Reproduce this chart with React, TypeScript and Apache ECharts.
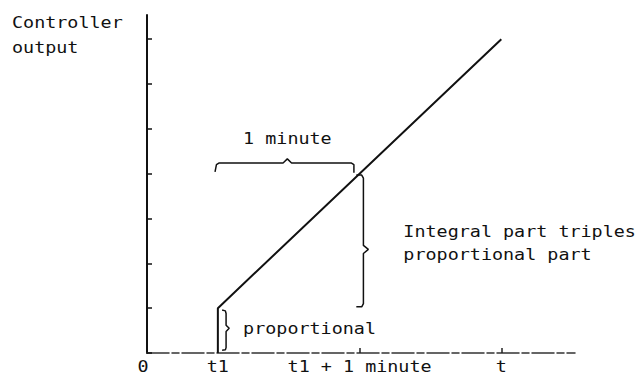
import React, { useEffect, useRef } from "react";
import * as echarts from "echarts";

// Axes (x in minutes, y in proportional-part units)
const xMin = 0;
const xMax = 3.02;
const yMin = 0;
const yMax = 7.54;
const yTickValues = [0, 1, 2, 3, 4, 5, 6, 7];
const xTickValues = [1.5, 2.5];
const xLabelValues = [0, 0.5, 1.5, 2.5];
const xLabelTexts = ["0", "t1", "t1 + 1 minute", "t"];
const xLabelLevel = -0.31;

// Controller output response
const responseX = [0.5, 0.5, 2.5];
const responseY = [0, 1, 7];

// Braces (annotation marks, in data units)
const braceMinuteX = [0.48, 0.49, 0.51, 0.96, 0.99, 1.02, 1.44, 1.46, 1.46];
const braceMinuteY = [4.04, 4.2, 4.24, 4.24, 4.33, 4.24, 4.24, 4.2, 4.02];
const braceIntegralX = [1.477, 1.515, 1.527, 1.527, 1.562, 1.527, 1.527, 1.515, 1.477];
const braceIntegralY = [3.97, 3.97, 3.9, 2.4, 2.31, 2.22, 1.1, 1.03, 1.03];
const braceProportionalX = [0.53, 0.553, 0.558, 0.558, 0.58, 0.558, 0.558, 0.553, 0.53];
const braceProportionalY = [0.96, 0.94, 0.88, 0.62, 0.55, 0.48, 0.12, 0.07, 0.06];

// Annotation texts and anchors (data units, left-aligned)
const noteTexts = ["1 minute", "Integral part triples", "proportional part", "proportional"];
const noteX = [0.678, 1.809, 1.809, 0.678];
const noteY = [4.78, 2.72, 2.19, 0.54];

const axisTitleLines = ["Controller", "output"];

const FONT = '"DejaVu Sans Mono", "Liberation Mono", monospace';
const FS = 16;
const SX = 1.15;
const INK = "#111";

const zip = (xs: number[], ys: number[]) => xs.map((x, i) => [x, ys[i]]);

export default function App() {
  const ref = useRef<HTMLDivElement>(null);
  useEffect(() => {
    if (!ref.current) return;
    const chart = echarts.init(ref.current, undefined, { renderer: "svg" });
    const braceSeries = (xs: number[], ys: number[]) => ({
      type: "line",
      data: zip(xs, ys),
      symbol: "none",
      silent: true,
      lineStyle: { color: INK, width: 1.5 },
    });
    chart.setOption({
      animation: false,
      backgroundColor: "#fff",
      grid: { left: 147, top: 15, right: 68, bottom: 24 },
      xAxis: {
        type: "value",
        min: xMin,
        max: xMax,
        axisLine: { show: true, lineStyle: { color: "#333", width: 1.5, type: [22, 3, 7, 3] } },
        axisTick: { show: true, inside: true, length: 5, customValues: xTickValues, lineStyle: { color: "#222", width: 1.5 } },
        axisLabel: { show: false },
        splitLine: { show: false },
      },
      yAxis: {
        type: "value",
        min: yMin,
        max: yMax,
        axisLine: { show: true, lineStyle: { color: INK, width: 2 } },
        axisTick: { show: true, inside: true, length: 5, customValues: yTickValues, lineStyle: { color: INK, width: 1.5 } },
        axisLabel: { show: false },
        splitLine: { show: false },
      },
      series: [
        {
          type: "line",
          data: zip(responseX, responseY),
          symbol: "none",
          lineStyle: { color: INK, width: 2 },
        },
        braceSeries(braceMinuteX, braceMinuteY),
        braceSeries(braceIntegralX, braceIntegralY),
        braceSeries(braceProportionalX, braceProportionalY),
      ],
    });

    const toPx = (x: number, y: number) => chart.convertToPixel({ gridIndex: 0 }, [x, y]) as number[];
    const textEl = (text: string, x: number, y: number, align: string) => ({
      type: "text",
      x,
      y,
      scaleX: SX,
      scaleY: 1,
      silent: true,
      style: {
        text,
        fill: INK,
        fontSize: FS,
        fontFamily: FONT,
        align,
        textAlign: align,
        verticalAlign: "middle",
        textVerticalAlign: "middle",
      },
    });
    const graphics: any[] = [];
    xLabelValues.forEach((v, i) => {
      const p = toPx(v, xLabelLevel);
      graphics.push(textEl(xLabelTexts[i], p[0] - (i === 0 ? 4 : 0), p[1], "center"));
    });
    noteTexts.forEach((t, i) => {
      const p = toPx(noteX[i], noteY[i]);
      graphics.push(textEl(t, p[0], p[1], "left"));
    });
    axisTitleLines.forEach((t, i) => {
      graphics.push(textEl(t, 12, 22 + i * 25, "left"));
    });
    chart.setOption({ graphic: graphics });

    return () => chart.dispose();
  }, []);
  return <div ref={ref} style={{ width: 643, height: 377, position: "absolute", left: 0, top: 0 }} />;
}
